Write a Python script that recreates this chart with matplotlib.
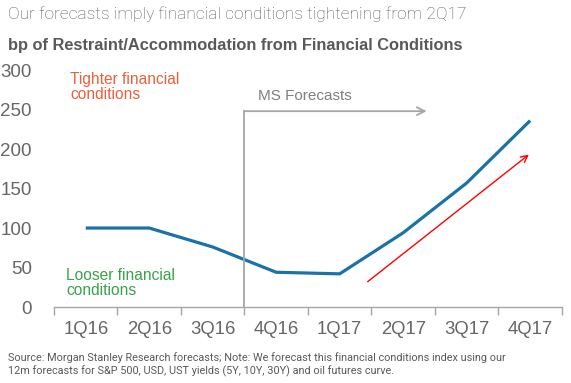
import matplotlib.pyplot as plt
import numpy as np

# data
quarters = ['1Q16', '2Q16', '3Q16', '4Q16', '1Q17', '2Q17', '3Q17', '4Q17']
fci_bp = [100, 100, 76, 44, 42, 94, 157, 236]
y_ticks = [0, 50, 100, 150, 200, 250, 300]

label_gray = '#666666'
line_gray = '#a6a6a6'

fig = plt.figure(figsize=(5.71, 3.83), dpi=100)
ax = fig.add_axes([0.0946, 0.1984, 0.8894, 0.6186])

x = np.arange(len(quarters))
ax.plot(x, fci_bp, color='#1a72a6', linewidth=2.3, solid_capstyle='butt')

ax.set_xlim(-0.5, len(quarters) - 0.5)
ax.set_ylim(0, 300)

# category boundaries as ticks on the bottom axis
ax.set_xticks(np.arange(-0.5, len(quarters), 1.0))
ax.set_xticklabels([])
ax.set_xticks(x, minor=True)
ax.set_xticklabels(quarters, minor=True, fontsize=13.3, color=label_gray,
                   family='Liberation Sans')
ax.tick_params(axis='x', which='major', length=6, width=1, color=line_gray)
ax.tick_params(axis='x', which='minor', length=0, pad=10)

ax.set_yticks(y_ticks)
ax.set_yticklabels([str(v) for v in y_ticks], fontsize=13.5, color=label_gray,
                   family='Liberation Sans')
ax.tick_params(axis='y', length=0, pad=16)

for s in ['top', 'right', 'left']:
    ax.spines[s].set_visible(False)
ax.spines['bottom'].set_color(line_gray)
ax.spines['bottom'].set_linewidth(1)

# forecast marker
ax.plot([2.5, 2.5], [0, 248], color=line_gray, linewidth=1.3, clip_on=False)
ax.annotate('', xy=(5.37, 248), xytext=(2.5, 248),
            arrowprops=dict(arrowstyle='->', color=line_gray, lw=1.3,
                            mutation_scale=14, shrinkA=0, shrinkB=0),
            annotation_clip=False)
ax.text(2.72, 258, 'MS Forecasts', fontsize=11, color='#7f7f7f',
        family='Liberation Sans', va='bottom')

# red trend arrow
ax.annotate('', xy=(6.98, 193), xytext=(4.44, 32),
            arrowprops=dict(arrowstyle='->', color='#ff0000', lw=1,
                            mutation_scale=12, shrinkA=0, shrinkB=0))

ax.text(-0.25, 298, 'Tighter financial\nconditions', fontsize=11.2,
        color='#e8603c', family='Liberation Sans', va='top', linespacing=1.0)
ax.text(-0.31, 49, 'Looser financial\nconditions', fontsize=11.2,
        color='#3aa24a', family='Liberation Sans', va='top', linespacing=1.0)

fig.text(0.014, 0.962, 'Our forecasts imply financial conditions tightening from 2Q17',
         fontsize=12.5, color='#595959', family='Roboto', fontweight='light',
         va='center')
fig.text(0.014, 0.882, 'bp of Restraint/Accommodation from Financial Conditions',
         fontsize=11.75, color='#595959', family='Liberation Sans',
         fontweight='bold', va='center')
fig.text(0.014, 0.048, 'Source: Morgan Stanley Research forecasts; Note: We forecast '
         'this financial conditions index using our\n12m forecasts for S&P 500, USD, '
         'UST yields (5Y, 10Y, 30Y) and oil futures curve.',
         fontsize=7.85, color='#595959', family='Roboto', va='center',
         linespacing=1.35)

plt.savefig('out.png', dpi=100)
